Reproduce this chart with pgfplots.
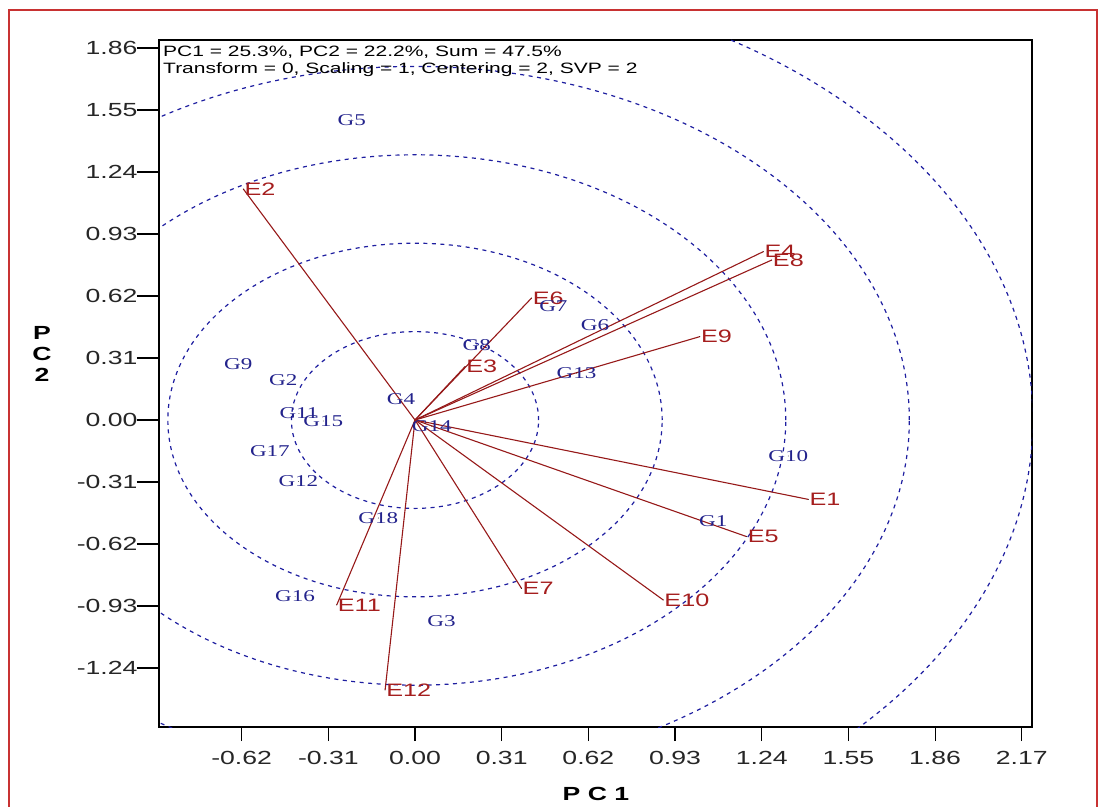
\documentclass[border=0pt]{standalone}
\usepackage{pgfplots}
\usepackage{pgfplotstable}
\pgfplotsset{compat=1.18}
\usepackage{fontspec}
\setmainfont{Liberation Sans}[FakeStretch=1.4]
\newfontfamily\gfont{Liberation Serif}[FakeStretch=1.4]
\definecolor{envred}{RGB}{165,30,30}
\definecolor{envline}{RGB}{150,25,25}
\definecolor{gblue}{RGB}{35,35,140}
\definecolor{circblue}{RGB}{30,30,160}
\definecolor{framered}{RGB}{200,50,50}

\pgfplotstableread{
lab x y
E1 1.407 -0.397
E2 -0.614 1.155
E3 0.179 0.267
E4 1.246 0.842
E5 1.186 -0.583
E6 0.417 0.610
E7 0.381 -0.842
E8 1.276 0.800
E9 1.019 0.417
E10 0.888 -0.900
E11 -0.280 -0.925
E12 -0.107 -1.350
}\envtab

\pgfplotstableread{
lab x y
G1 1.067 -0.508
G2 -0.471 0.200
G3 0.095 -1.008
G4 -0.050 0.105
G5 -0.226 1.500
G6 0.644 0.475
G7 0.495 0.567
G8 0.221 0.375
G9 -0.632 0.280
G10 1.335 -0.180
G11 -0.415 0.033
G12 -0.417 -0.308
G13 0.578 0.234
G14 0.060 -0.033
G15 -0.328 -0.005
G16 -0.429 -0.883
G17 -0.519 -0.158
G18 -0.131 -0.490
}\gentab

\tikzset{circ/.style={circblue, dash pattern=on 4bp off 4.5bp, line width=1.2bp}}

\begin{document}
\begin{tikzpicture}
\begin{axis}[
  at={(159bp,-727bp)}, anchor=south west,
  scale only axis, width=873bp, height=687bp,
  xmin=-0.9156, xmax=2.2067, ymin=-1.535, ymax=1.90,
  axis line style={line width=1.4bp, black},
  tick align=outside, xtick pos=left, ytick pos=left,
  major tick length=16bp,
  tick style={black, line width=1.1bp},
  xtick style={/pgfplots/major tick length=14bp},
  ytick style={/pgfplots/major tick length=22bp},
  xtick={-0.62,-0.31,0,0.31,0.62,0.93,1.24,1.55,1.86,2.17},
  ytick={-1.24,-0.93,-0.62,-0.31,0,0.31,0.62,0.93,1.24,1.55,1.86},
  /pgf/number format/fixed,
  /pgf/number format/fixed zerofill,
  /pgf/number format/precision=2,
  /pgf/number format/assume math mode=true,
  tick label style={font=\fontsize{19bp}{22bp}\selectfont, text=black!85},
  xticklabel style={yshift=-5bp},
  yticklabel style={xshift=-2bp},
  clip=true,
]
\draw[circ] (axis cs:0,0) ellipse [x radius=0.442, y radius=0.442];
\draw[circ] (axis cs:0,0) ellipse [x radius=0.884, y radius=0.884];
\draw[circ] (axis cs:0,0) ellipse [x radius=1.326, y radius=1.326];
\draw[circ] (axis cs:0,0) ellipse [x radius=1.768, y radius=1.768];
\draw[circ] (axis cs:0,0) ellipse [x radius=2.21, y radius=2.21];
\addplot[envline, line width=1.1bp] coordinates {(0,0) (1.407,-0.397)};
\addplot[envline, line width=1.1bp] coordinates {(0,0) (-0.614,1.155)};
\addplot[envline, line width=1.1bp] coordinates {(0,0) (0.179,0.267)};
\addplot[envline, line width=1.1bp] coordinates {(0,0) (1.246,0.842)};
\addplot[envline, line width=1.1bp] coordinates {(0,0) (1.186,-0.583)};
\addplot[envline, line width=1.1bp] coordinates {(0,0) (0.417,0.610)};
\addplot[envline, line width=1.1bp] coordinates {(0,0) (0.381,-0.842)};
\addplot[envline, line width=1.1bp] coordinates {(0,0) (1.276,0.800)};
\addplot[envline, line width=1.1bp] coordinates {(0,0) (1.019,0.417)};
\addplot[envline, line width=1.1bp] coordinates {(0,0) (0.888,-0.900)};
\addplot[envline, line width=1.1bp] coordinates {(0,0) (-0.280,-0.925)};
\addplot[envline, line width=1.1bp] coordinates {(0,0) (-0.107,-1.350)};

\addplot[only marks, mark=*, mark size=0.1pt, mark options={draw=none, fill=none},
  nodes near coords, point meta=explicit symbolic,
  every node near coord/.append style={anchor=west, inner sep=1bp, text=envred,
    font=\fontsize{18bp}{20bp}\selectfont}]
  table[x=x, y=y, meta=lab] {\envtab};
\addplot[only marks, mark=*, mark size=0.1pt, mark options={draw=none, fill=none},
  nodes near coords, point meta=explicit symbolic,
  every node near coord/.append style={anchor=center, inner sep=0bp, text=gblue,
    font=\gfont\fontsize{16.5bp}{18bp}\selectfont}]
  table[x=x, y=y, meta=lab] {\gentab};

\node[anchor=north west, inner sep=0pt, align=left, xshift=4bp, yshift=-6bp,
  font=\fontsize{15bp}{16.7bp}\selectfont] at (rel axis cs:0,1)
  {PC1 = 25.3\%, PC2 = 22.2\%, Sum = 47.5\%\\Transform = 0, Scaling = 1, Centering = 2, SVP = 2};
\end{axis}
\node[font=\bfseries\fontsize{19bp}{22bp}\selectfont] at (596bp,-794bp) {P C 1};
\node[font=\bfseries\fontsize{19bp}{21bp}\selectfont, align=center] at (42bp,-354bp) {P\\C\\2};
\draw[framered, line width=2bp] (9bp,-815bp) -- (9bp,-10bp) -- (1097bp,-10bp) -- (1097bp,-815bp);
\pgfresetboundingbox
\useasboundingbox (0,0) rectangle (1104bp,-807bp);
\end{tikzpicture}
\end{document}
